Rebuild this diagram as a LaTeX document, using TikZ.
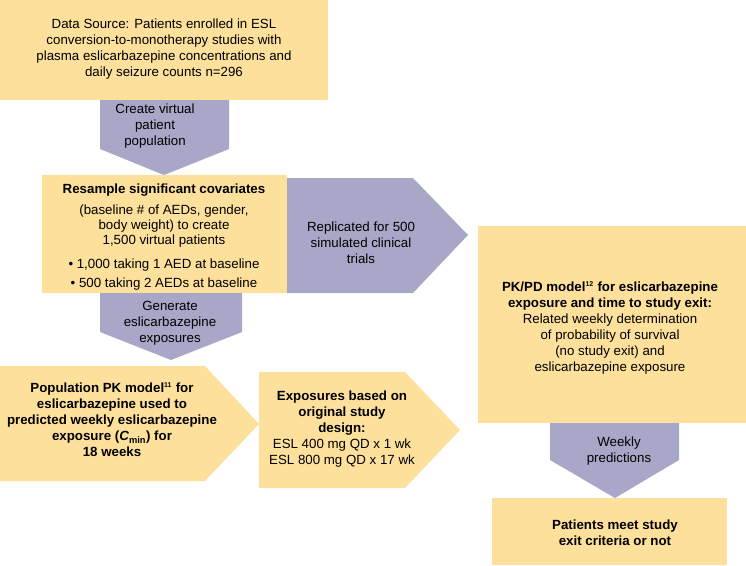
\documentclass[tikz,border=0pt]{standalone}
\usepackage{fontspec}
\setmainfont{Liberation Sans}
\definecolor{boxyellow}{RGB}{253,224,155}
\definecolor{arrowpurple}{RGB}{168,167,200}
\newcommand{\refnum}[1]{\textsuperscript{\fontsize{7}{8}\selectfont #1}}
\tikzset{
  ybox/.style={fill=boxyellow},
  parrow/.style={fill=arrowpurple},
  lbl/.style={align=center, inner sep=0pt, text=black,
              font=\fontsize{13.3}{16}\selectfont},
  blbl/.style={lbl, font=\fontsize{13.3}{16}\selectfont\bfseries}
}

\begin{document}
\begin{tikzpicture}[x=1pt,y=-1pt]
  \useasboundingbox (0,0) rectangle (746,565);
  % boxes
  \fill[ybox] (0,0) rectangle (328,100);
  \fill[ybox] (42,175) rectangle (287,293);
  \fill[ybox] (0,366) -- (205,366) -- (259,424) -- (205,481) -- (0,481) -- cycle;
  \fill[ybox] (259,372) -- (405,372) -- (460,430) -- (405,488) -- (259,488) -- cycle;
  \fill[ybox] (478,226) rectangle (746,423);
  \fill[ybox] (492,498) rectangle (727,565);
  % block arrows
  \fill[parrow] (100,100) -- (229,100) -- (229,149) -- (164,175) -- (100,149) -- cycle;
  \fill[parrow] (100,293) -- (242,293) -- (242,332) -- (171,360) -- (100,332) -- cycle;
  \fill[parrow] (287,178) -- (413,178) -- (468,235) -- (413,293) -- (287,293) -- cycle;
  \fill[parrow] (550,423) -- (679,423) -- (679,460) -- (615,498) -- (550,460) -- cycle;
  % texts
  \node[lbl] (src) at (164,49) {Data Source: Patients enrolled in ESL\\
    conversion-to-monotherapy studies with\\
    plasma eslicarbazepine concentrations and\\
    daily seizure counts n=296};
  \node[lbl] (create) at (155,126) {Create virtual\\patient\\population};
  \node[lbl] (resamp) at (164,237) {\textbf{Resample significant covariates}\\[5pt]
    (baseline \# of AEDs, gender,\\[-1pt]
    body weight) to create\\[-1pt]
    1,500 virtual patients\\[8pt]
    \textbullet{} 1,000 taking 1 AED at baseline\\[3pt]
    \textbullet{} 500 taking 2 AEDs at baseline};
  \node[lbl] (gen) at (170,323) {Generate\\eslicarbazepine\\exposures};
  \node[lbl] (repl) at (361,243) {Replicated for 500\\simulated clinical\\trials};
  \node[blbl] (popk) at (112,420) {Population PK model\refnum{11} for\\
    eslicarbazepine used to\\
    predicted weekly eslicarbazepine\\
    exposure (\textit{C}\textsubscript{min}) for\\
    18 weeks};
  \node[lbl] (expo) at (342,429) {\textbf{Exposures based on}\\
    \textbf{original study}\\
    \textbf{design:}\\
    ESL 400 mg QD x 1 wk\\
    ESL 800 mg QD x 17 wk};
  \node[lbl] (pkpd) at (610,328) {\textbf{PK/PD model\refnum{12} for eslicarbazepine}\\
    \textbf{exposure and time to study exit:}\\
    Related weekly determination\\
    of probability of survival\\
    (no study exit) and\\
    eslicarbazepine exposure};
  \node[lbl] (weekly) at (619,451) {Weekly\\predictions};
  \node[blbl] (meet) at (615,533) {Patients meet study\\exit criteria or not};
\end{tikzpicture}
\end{document}
